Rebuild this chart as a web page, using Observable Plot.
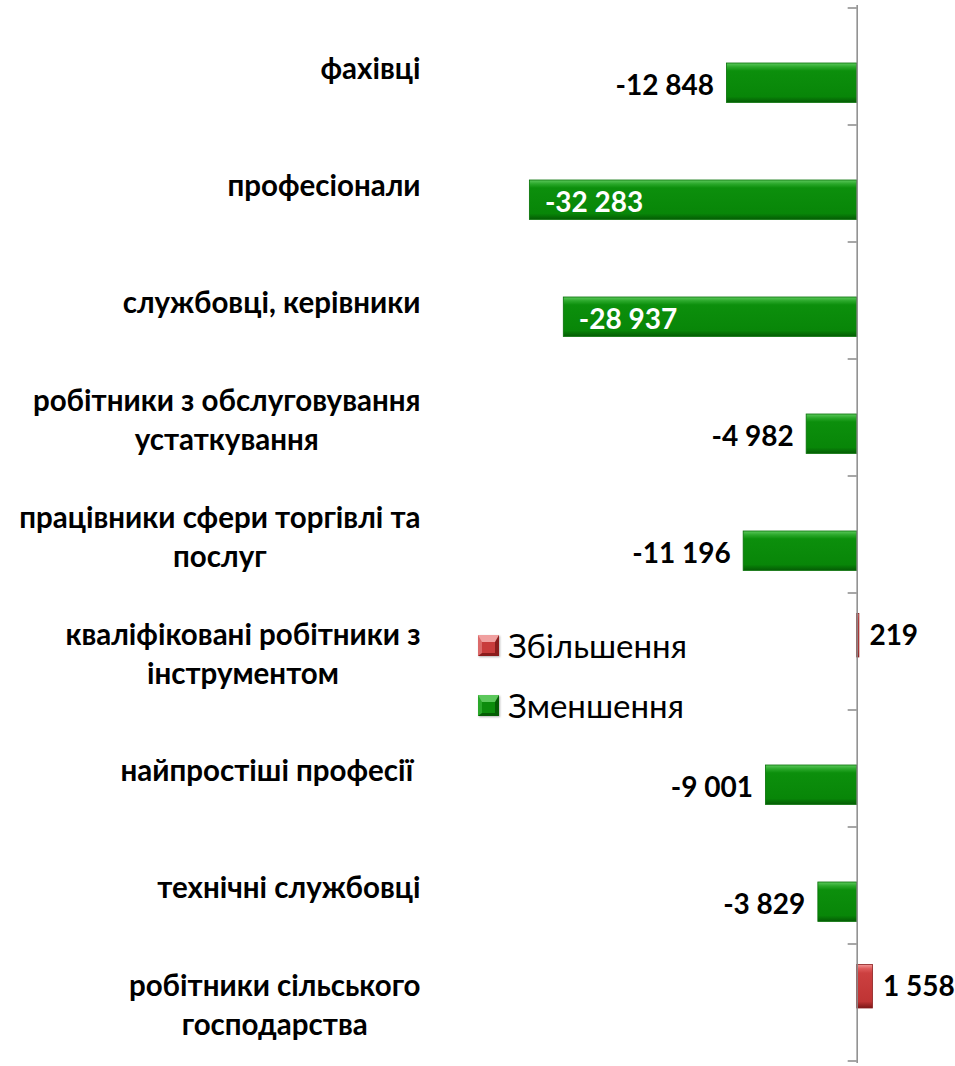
<!DOCTYPE html>
<html>
<head>
<meta charset="utf-8">
<script src="https://cdn.jsdelivr.net/npm/d3@7"></script>
<script src="https://cdn.jsdelivr.net/npm/@observablehq/plot@0.6"></script>
<style>
  html, body { margin: 0; padding: 0; background: #fff; overflow: hidden; }
  #wrap { position: relative; width: 955px; height: 1066px; font-family: Lato, "Open Sans", sans-serif; }
  #wrap svg { display: block; }
  #wrap svg text { white-space: pre; }
  .legend { position: absolute; left: 478px; top: 615px; }
  .legend .row { display: flex; align-items: center; height: 60px; font-size: 33px; color: #000; }
  .legend .sw { display: inline-block; flex: 0 0 21px; width: 21px; height: 21px; margin-right: 9px; box-sizing: border-box; }
</style>
</head>
<body>
<div id="wrap"></div>
<script>
const categories = [
  "фахівці",
  "професіонали",
  "службовці, керівники",
  "робітники з обслуговування\nустаткування",
  "працівники сфери торгівлі та\nпослуг",
  "кваліфіковані робітники з\nінструментом",
  "найпростіші професії ",
  "технічні службовці",
  "робітники сільського\nгосподарства"
];
const values = [-12848, -32283, -28937, -4982, -11196, 219, -9001, -3829, 1558];
const seriesNames = ["Збільшення", "Зменшення"];

const data = categories.map((cat, i) => ({cat, value: values[i], series: values[i] >= 0 ? seriesNames[0] : seriesNames[1]}));
const fmt = v => (v < 0 ? "-" : "") + d3.format(",")(Math.abs(v)).replace(/,/g, " ");
const FONT = "Lato, 'Open Sans', sans-serif";
const FS_CAT = 29.5;
const FS_VAL = 28;

const defs = () => {
  const g = d3.create("svg:defs");
  const mk = (id, stops) => {
    const lg = g.append("linearGradient").attr("id", id).attr("x1", 0).attr("y1", 0).attr("x2", 0).attr("y2", 1);
    stops.forEach(([o, c]) => lg.append("stop").attr("offset", o).attr("stop-color", c));
  };
  mk("gGreen", [[0, "#5cc85c"], [0.1, "#2aa82a"], [0.2, "#0c8f0c"], [0.85, "#088608"], [1, "#045c04"]]);
  mk("gRed", [[0, "#f29a9a"], [0.1, "#de5a5a"], [0.2, "#cc4040"], [0.85, "#bf3434"], [1, "#7c1717"]]);
  const f = g.append("filter").attr("id", "shadow").attr("x", "-10%").attr("y", "-20%").attr("width", "130%").attr("height", "160%");
  f.append("feDropShadow").attr("dx", 2).attr("dy", 3).attr("stdDeviation", 2).attr("flood-color", "#000").attr("flood-opacity", 0.3);
  return g.node();
};

const axisTicks = (index, scales, values, dims) => {
  const y = scales.y, x0 = scales.x(0);
  const bw = y.bandwidth ? y.bandwidth() : (dims.height - dims.marginTop - dims.marginBottom) / categories.length;
  const g = d3.create("svg:g").attr("stroke", "#8a8a8a").attr("stroke-width", 1.5);
  const ys = categories.map(c => y(c)).concat([y(categories[categories.length - 1]) + bw]);
  ys.forEach(v => g.append("line").attr("x1", x0 - 9).attr("x2", x0).attr("y1", v).attr("y2", v));
  return g.node();
};

const plot = Plot.plot({
  width: 955,
  height: 1066,
  marginTop: 5,
  marginBottom: 3,
  marginLeft: 441,
  marginRight: 1,
  x: {domain: [-41000, 9600], axis: null},
  y: {domain: categories, axis: null, padding: 0},
  style: {fontFamily: FONT, background: "white"},
  marks: [
    defs,
    Plot.barX(data.filter(d => d.value < 0), {x1: 0, x2: "value", y: "cat", fill: "url(#gGreen)", insetTop: 55, insetBottom: 22.6, stroke: "#067006", strokeWidth: 0.8, style: "filter:url(#shadow)"}),
    Plot.barX(data.filter(d => d.value >= 0), {x1: 0, x2: "value", y: "cat", fill: "url(#gRed)", insetTop: 20.4, insetBottom: 53, stroke: "#8a1e1e", strokeWidth: 0.8}),
    Plot.ruleX([0], {stroke: "#8a8a8a", strokeWidth: 1.5}),
    axisTicks,
    Plot.text(categories, {y: d => d, frameAnchor: "left", textAnchor: "end", dx: -21, lineHeight: 1.32, fontSize: FS_CAT, fontWeight: "bold", fill: "#000"}),
    Plot.text(data.filter(d => d.value < 0 && d.value > -20000), {x: "value", y: "cat", text: d => fmt(d.value), textAnchor: "end", dx: -13, dy: 19, fontSize: FS_VAL, fontWeight: "bold", fill: "#000"}),
    Plot.text(data.filter(d => d.value <= -20000), {x: "value", y: "cat", text: d => fmt(d.value), textAnchor: "start", dx: 15, dy: 19, fontSize: FS_VAL, fontWeight: "bold", fill: "#fff"}),
    Plot.text(data.filter(d => d.value >= 0), {x: "value", y: "cat", text: d => fmt(d.value), textAnchor: "start", dx: 10, dy: -16, fontSize: FS_VAL, fontWeight: "bold", fill: "#000"})
  ]
});

const wrap = document.getElementById("wrap");
wrap.appendChild(plot);

// center multi-line category labels within their block (block right-aligned)
plot.querySelectorAll("text").forEach(text => {
  const tspans = text.querySelectorAll("tspan");
  if (tspans.length < 2) return;
  let w = 0;
  tspans.forEach(t => { w = Math.max(w, t.getComputedTextLength()); });
  text.setAttribute("text-anchor", "middle");
  text.style.textAnchor = "middle";
  tspans.forEach(t => t.setAttribute("x", -w / 2));
});

// legend
const swatchStyles = [
  {bg: "#c83c3c", top: "#f0a0a0", side: "#dc6a6a", dark: "#8a1c1c"},
  {bg: "#0c8c0c", top: "#5cc85c", side: "#2aa82a", dark: "#045c04"}
];
const legend = document.createElement("div");
legend.className = "legend";
seriesNames.forEach((name, i) => {
  const s = swatchStyles[i];
  const row = document.createElement("div");
  row.className = "row";
  const sw = document.createElement("span");
  sw.className = "sw";
  sw.style.background = s.bg;
  sw.style.borderStyle = "solid";
  sw.style.borderWidth = "7px 4px 3px 4px";
  sw.style.borderColor = `${s.top} ${s.dark} ${s.dark} ${s.side}`;
  sw.style.boxShadow = "1px 1px 2px rgba(0,0,0,0.3)";
  const lab = document.createElement("span");
  lab.textContent = name;
  row.appendChild(sw);
  row.appendChild(lab);
  legend.appendChild(row);
});
wrap.appendChild(legend);
</script>
</body>
</html>
